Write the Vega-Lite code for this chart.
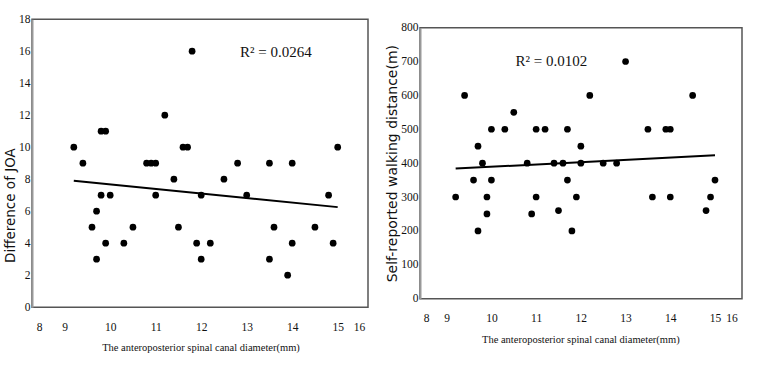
{
  "$schema": "https://vega.github.io/schema/vega-lite/v6.json",
  "padding": {"left": 2, "top": 12, "right": 2, "bottom": 2},
  "background": "white",
  "config": {
    "view": {"stroke": "#555", "strokeWidth": 1.5},
    "axis": {"grid": false, "ticks": false, "labelOverlap": false, "tickCount": 20, "format": "d", "labelFont": "Liberation Serif", "labelFontSize": 11.5, "labelColor": "#111", "titleColor": "#111", "titleFontWeight": "normal"}
  },
  "datasets": {
    "joa": [
      {"diameter": 9.2, "joa": 10}, {"diameter": 9.4, "joa": 9}, {"diameter": 9.8, "joa": 11}, {"diameter": 9.9, "joa": 11},
      {"diameter": 9.8, "joa": 7}, {"diameter": 10.0, "joa": 7}, {"diameter": 9.7, "joa": 6}, {"diameter": 9.6, "joa": 5},
      {"diameter": 9.9, "joa": 4}, {"diameter": 9.7, "joa": 3}, {"diameter": 10.3, "joa": 4}, {"diameter": 10.5, "joa": 5},
      {"diameter": 10.8, "joa": 9}, {"diameter": 10.9, "joa": 9}, {"diameter": 11.0, "joa": 9}, {"diameter": 11.0, "joa": 7},
      {"diameter": 11.2, "joa": 12}, {"diameter": 11.4, "joa": 8}, {"diameter": 11.5, "joa": 5}, {"diameter": 11.6, "joa": 10},
      {"diameter": 11.7, "joa": 10}, {"diameter": 11.8, "joa": 16}, {"diameter": 12.0, "joa": 7}, {"diameter": 11.9, "joa": 4},
      {"diameter": 12.2, "joa": 4}, {"diameter": 12.0, "joa": 3}, {"diameter": 12.5, "joa": 8}, {"diameter": 12.8, "joa": 9},
      {"diameter": 13.0, "joa": 7}, {"diameter": 13.5, "joa": 9}, {"diameter": 13.6, "joa": 5}, {"diameter": 13.5, "joa": 3},
      {"diameter": 14.0, "joa": 9}, {"diameter": 14.0, "joa": 4}, {"diameter": 13.9, "joa": 2}, {"diameter": 14.5, "joa": 5},
      {"diameter": 14.8, "joa": 7}, {"diameter": 14.9, "joa": 4}, {"diameter": 15.0, "joa": 10}
    ],
    "joaFit": [{"diameter": 9.2, "joa": 7.9}, {"diameter": 15.0, "joa": 6.25}],
    "walk": [
      {"diameter": 9.2, "distance": 300}, {"diameter": 9.4, "distance": 600}, {"diameter": 9.6, "distance": 350}, {"diameter": 9.7, "distance": 450},
      {"diameter": 9.8, "distance": 400}, {"diameter": 9.7, "distance": 200}, {"diameter": 9.9, "distance": 300}, {"diameter": 9.9, "distance": 250},
      {"diameter": 10.0, "distance": 500}, {"diameter": 10.0, "distance": 350}, {"diameter": 10.3, "distance": 500}, {"diameter": 10.5, "distance": 550},
      {"diameter": 10.8, "distance": 400}, {"diameter": 10.9, "distance": 250}, {"diameter": 11.0, "distance": 500}, {"diameter": 11.0, "distance": 300},
      {"diameter": 11.2, "distance": 500}, {"diameter": 11.4, "distance": 400}, {"diameter": 11.5, "distance": 260}, {"diameter": 11.6, "distance": 400},
      {"diameter": 11.7, "distance": 500}, {"diameter": 11.7, "distance": 350}, {"diameter": 11.8, "distance": 200}, {"diameter": 11.9, "distance": 300},
      {"diameter": 12.0, "distance": 450}, {"diameter": 12.0, "distance": 400}, {"diameter": 12.2, "distance": 600}, {"diameter": 12.5, "distance": 400},
      {"diameter": 12.8, "distance": 400}, {"diameter": 13.0, "distance": 700}, {"diameter": 13.5, "distance": 500}, {"diameter": 13.6, "distance": 300},
      {"diameter": 13.9, "distance": 500}, {"diameter": 14.0, "distance": 500}, {"diameter": 14.0, "distance": 300}, {"diameter": 14.5, "distance": 600},
      {"diameter": 14.8, "distance": 260}, {"diameter": 14.9, "distance": 300}, {"diameter": 15.0, "distance": 350}
    ],
    "walkFit": [{"diameter": 9.2, "distance": 384}, {"diameter": 15.0, "distance": 423}]
  },
  "hconcat": [
    {
      "width": 336,
      "height": 288,
      "layer": [
        {
          "data": {"name": "joa"},
          "mark": {"type": "circle", "size": 45, "color": "black", "opacity": 1},
          "encoding": {
            "x": {"field": "diameter", "type": "quantitative",
              "scale": {"domain": [8, 9, 15, 16], "range": [4.3, 32.7, 305.7, 332.7], "nice": false, "zero": false},
              "axis": {"values": [8, 9, 10, 11, 12, 13, 14, 15, 16], "format": "d", "tickCount": 20, "labelOverlap": false, "domain": false, "labelPadding": 14,
                "title": "The anteroposterior  spinal canal diameter(mm)", "titleFont": "Liberation Serif", "titleFontSize": 10.5, "titlePadding": 10}},
            "y": {"field": "joa", "type": "quantitative",
              "scale": {"domain": [0, 18], "nice": false, "zero": true},
              "axis": {"values": [0, 2, 4, 6, 8, 10, 12, 14, 16, 18], "format": "d", "tickCount": 20, "labelOverlap": false, "domainColor": "#999", "domainWidth": 2, "labelPadding": 2,
                "title": "Difference of JOA", "titleFont": "DejaVu Sans", "titleFontSize": 13.5, "titlePadding": 1, "titleY": 186}}
          }
        },
        {
          "data": {"name": "joaFit"},
          "mark": {"type": "line", "color": "black", "strokeWidth": 2},
          "encoding": {
            "x": {"field": "diameter", "type": "quantitative"},
            "y": {"field": "joa", "type": "quantitative"}
          }
        },
        {
          "data": {"values": [{"diameter": 13.64, "joa": 15.94, "label": "R² = 0.0264"}]},
          "mark": {"type": "text", "font": "Liberation Serif", "fontSize": 15, "color": "#111"},
          "encoding": {
            "x": {"field": "diameter", "type": "quantitative"},
            "y": {"field": "joa", "type": "quantitative"},
            "text": {"field": "label"}
          }
        }
      ]
    },
    {
      "width": 322,
      "height": 271,
      "layer": [
        {
          "data": {"name": "walk"},
          "mark": {"type": "circle", "size": 45, "color": "black", "opacity": 1},
          "encoding": {
            "x": {"field": "diameter", "type": "quantitative",
              "scale": {"domain": [8, 9, 15, 16], "range": [3.3, 26.7, 295, 317.3], "nice": false, "zero": false},
              "axis": {"values": [8, 9, 10, 11, 12, 13, 14, 15, 16], "format": "d", "tickCount": 20, "labelOverlap": false, "domain": false, "labelPadding": 14,
                "title": "The anteroposterior  spinal canal diameter(mm)", "titleFont": "Liberation Serif", "titleFontSize": 10.5, "titlePadding": 10}},
            "y": {"field": "distance", "type": "quantitative",
              "scale": {"domain": [0, 800], "nice": false, "zero": true},
              "axis": {"values": [0, 100, 200, 300, 400, 500, 600, 700, 800], "format": "d", "tickCount": 20, "labelOverlap": false, "domainColor": "#999", "domainWidth": 2, "labelPadding": 2,
                "title": "Self-reported walking distance(m)", "titleFont": "DejaVu Sans", "titleFontSize": 14, "titlePadding": 1}}
          }
        },
        {
          "data": {"name": "walkFit"},
          "mark": {"type": "line", "color": "black", "strokeWidth": 2},
          "encoding": {
            "x": {"field": "diameter", "type": "quantitative"},
            "y": {"field": "distance", "type": "quantitative"}
          }
        },
        {
          "data": {"values": [{"diameter": 11.34, "distance": 702, "label": "R² = 0.0102"}]},
          "mark": {"type": "text", "font": "Liberation Serif", "fontSize": 15, "color": "#111"},
          "encoding": {
            "x": {"field": "diameter", "type": "quantitative"},
            "y": {"field": "distance", "type": "quantitative"},
            "text": {"field": "label"}
          }
        }
      ]
    }
  ],
  "spacing": 15,
  "center": true
}
